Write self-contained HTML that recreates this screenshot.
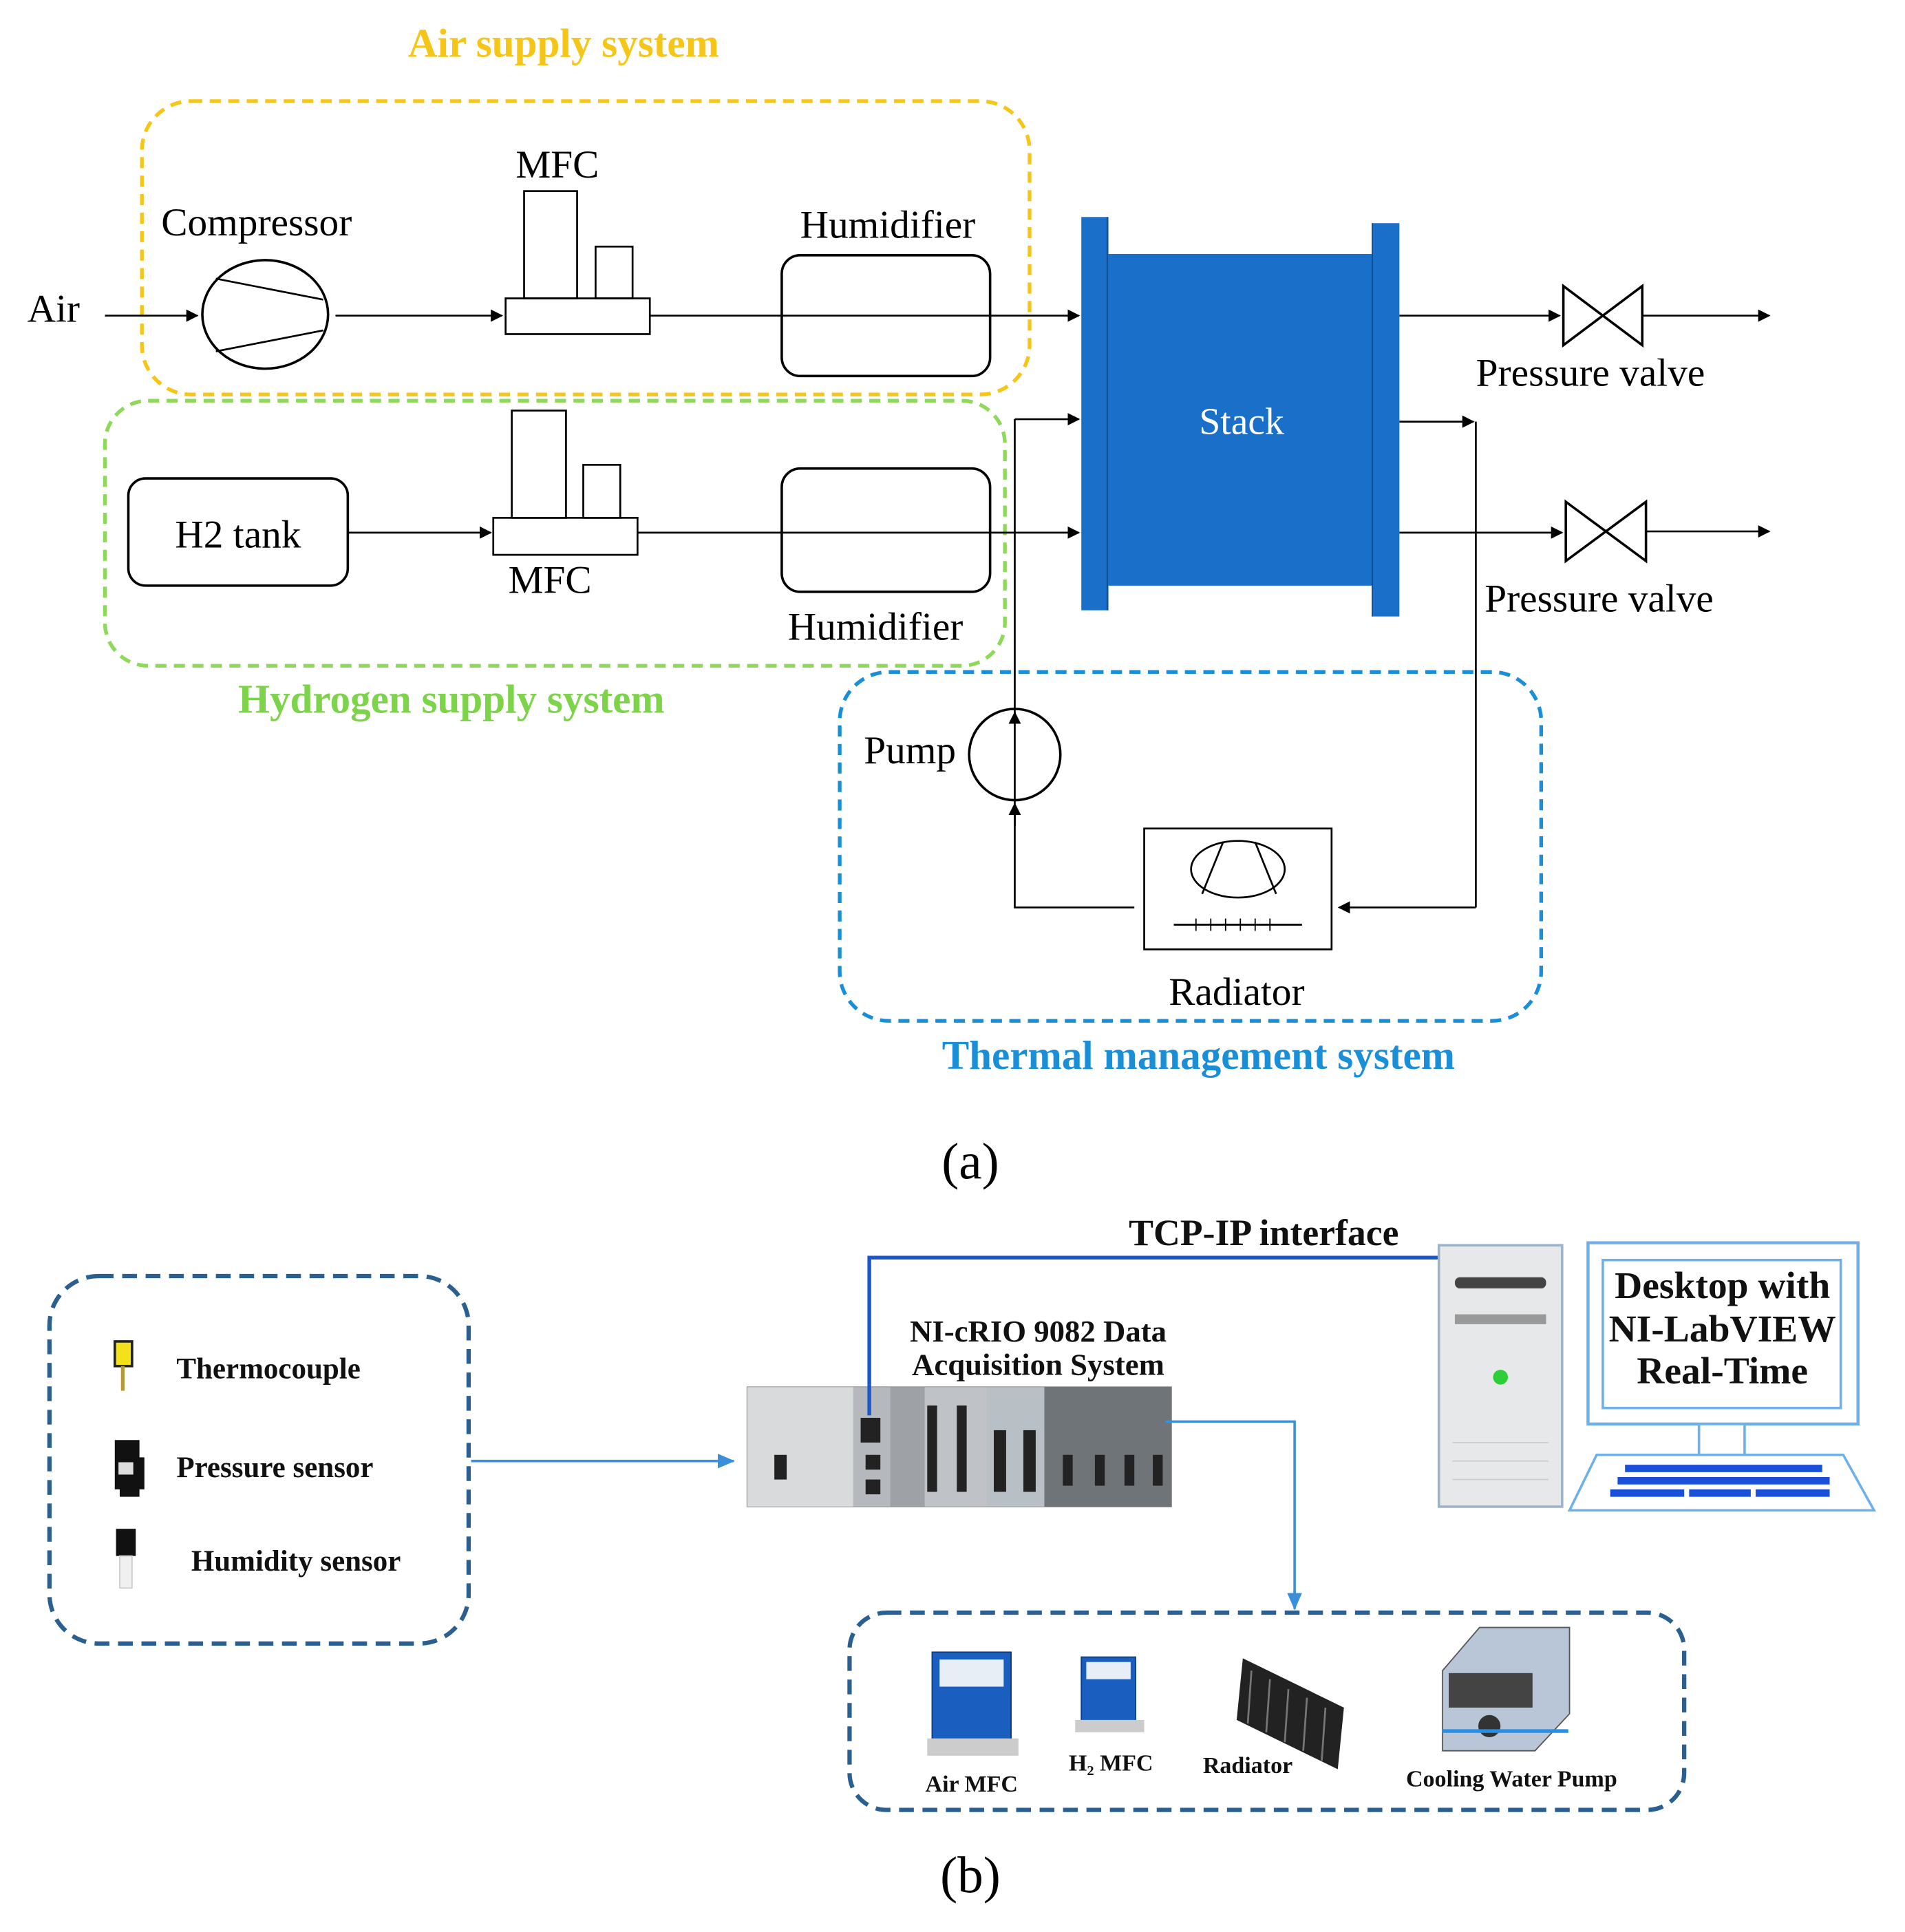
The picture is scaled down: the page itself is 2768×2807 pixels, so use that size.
<!DOCTYPE html>
<html><head><meta charset="utf-8"><style>
html,body{margin:0;padding:0;background:#fff;}
svg{display:block;}
text{font-family:"Liberation Serif",serif;}
</style></head><body>
<svg width="2768" height="2807" viewBox="0 0 1545 1567" xmlns="http://www.w3.org/2000/svg">
<defs>
<marker id="ar" markerWidth="10" markerHeight="10" refX="9" refY="5" orient="auto" markerUnits="userSpaceOnUse"><path d="M0,0 L10,5 L0,10 z" fill="#000"/></marker>
<marker id="ab" markerWidth="14" markerHeight="12" refX="13" refY="6" orient="auto" markerUnits="userSpaceOnUse"><path d="M0,0 L14,6 L0,12 z" fill="#3a8fd8"/></marker>
</defs>
<rect width="1545" height="1567" fill="#fff"/>
<rect x="115" y="82" width="720" height="238" rx="40" fill="none" stroke="#f5c518" stroke-width="3" stroke-dasharray="9,6"/>
<rect x="85" y="325" width="730" height="215" rx="35" fill="none" stroke="#8ed85a" stroke-width="3" stroke-dasharray="9,6"/>
<rect x="681" y="545" width="569" height="283" rx="40" fill="none" stroke="#1a8fd8" stroke-width="3" stroke-dasharray="9,6"/>
<text x="457" y="46" font-size="33" font-weight="bold" fill="#f5c518" text-anchor="middle">Air supply system</text>
<text x="366" y="578" font-size="33" font-weight="bold" fill="#7dd34a" text-anchor="middle">Hydrogen supply system</text>
<text x="972" y="867" font-size="33" font-weight="bold" fill="#1a8fd8" text-anchor="middle">Thermal management system</text>

<g stroke="#000" stroke-width="1.5" fill="none">
<line x1="85" y1="256" x2="160" y2="256" marker-end="url(#ar)"/>
<ellipse cx="215" cy="255" rx="51" ry="44" stroke-width="2"/>
<line x1="175" y1="226" x2="262" y2="243"/>
<line x1="175" y1="285" x2="262" y2="268"/>
<line x1="272" y1="256" x2="407" y2="256" marker-end="url(#ar)"/>
<rect x="410" y="242" width="117" height="29" fill="#fff"/>
<rect x="425" y="155" width="43" height="87"/>
<rect x="483" y="200" width="30" height="42"/>
<line x1="527" y1="256" x2="875" y2="256" marker-end="url(#ar)"/>
<rect x="634" y="207" width="169" height="98" rx="15" stroke-width="2"/>
<rect x="104" y="388" width="178" height="87" rx="14" stroke-width="2"/>
<line x1="282" y1="432" x2="398" y2="432" marker-end="url(#ar)"/>
<rect x="400" y="420" width="117" height="30" fill="#fff"/>
<rect x="415" y="333" width="44" height="87"/>
<rect x="473" y="377" width="30" height="43"/>
<line x1="517" y1="432" x2="875" y2="432" marker-end="url(#ar)"/>
<rect x="634" y="380" width="169" height="100" rx="15" stroke-width="2"/>
<line x1="1135" y1="256" x2="1265" y2="256" marker-end="url(#ar)"/>
<path d="M1268,232 L1332,280 L1332,232 L1268,280 Z" stroke-width="2"/>
<line x1="1332" y1="256" x2="1435" y2="256" marker-end="url(#ar)"/>
<line x1="1135" y1="432" x2="1267" y2="432" marker-end="url(#ar)"/>
<path d="M1270,407 L1335,455 L1335,407 L1270,455 Z" stroke-width="2"/>
<line x1="1335" y1="431" x2="1435" y2="431" marker-end="url(#ar)"/>
<line x1="1135" y1="342" x2="1195" y2="342" marker-end="url(#ar)"/>
<line x1="1197" y1="342" x2="1197" y2="736"/>
<line x1="1197" y1="736" x2="1086" y2="736" marker-end="url(#ar)"/>
<rect x="928" y="672" width="152" height="98"/>
<ellipse cx="1004" cy="705" rx="38" ry="23"/>
<line x1="992" y1="683" x2="975" y2="725"/>
<line x1="1018" y1="683" x2="1035" y2="725"/>
<line x1="952" y1="750" x2="1056" y2="750"/>
<g stroke-width="1"><line x1="970" y1="745" x2="970" y2="755"/><line x1="982" y1="745" x2="982" y2="755"/><line x1="994" y1="745" x2="994" y2="755"/><line x1="1006" y1="745" x2="1006" y2="755"/><line x1="1018" y1="745" x2="1018" y2="755"/><line x1="1030" y1="745" x2="1030" y2="755"/></g>
<polyline points="920,736 823,736 823,660"/>
<circle cx="823" cy="612" r="37" stroke-width="2"/>
<line x1="823" y1="670" x2="823" y2="652" marker-end="url(#ar)"/>
<line x1="823" y1="652" x2="823" y2="578" marker-end="url(#ar)"/>
<line x1="823" y1="580" x2="823" y2="340"/>
<line x1="823" y1="340" x2="875" y2="340" marker-end="url(#ar)"/>
</g>
<rect x="877" y="176" width="22" height="319" fill="#1a6fc9"/>
<rect x="898" y="206" width="215" height="269" fill="#1a6fc9"/>
<rect x="1113" y="181" width="22" height="319" fill="#1a6fc9"/>
<line x1="898" y1="176" x2="898" y2="495" stroke="#0d4a90" stroke-width="1"/>
<line x1="1113" y1="181" x2="1113" y2="500" stroke="#0d4a90" stroke-width="1"/>
<text x="1007" y="352" font-size="31" fill="#fff" text-anchor="middle">Stack</text>

<g font-size="32" fill="#000">
<text x="22" y="261">Air</text>
<text x="208" y="191" text-anchor="middle">Compressor</text>
<text x="452" y="144" text-anchor="middle">MFC</text>
<text x="720" y="193" text-anchor="middle">Humidifier</text>
<text x="193" y="444" text-anchor="middle">H2 tank</text>
<text x="446" y="481" text-anchor="middle">MFC</text>
<text x="710" y="519" text-anchor="middle">Humidifier</text>
<text x="1290" y="313" text-anchor="middle">Pressure valve</text>
<text x="1297" y="496" text-anchor="middle">Pressure valve</text>
<text x="738" y="619" text-anchor="middle">Pump</text>
<text x="1003" y="815" text-anchor="middle">Radiator</text>
<text x="787" y="956" font-size="42" text-anchor="middle">(a)</text>
<text x="787" y="1535" font-size="42" text-anchor="middle">(b)</text>
</g>

<rect x="40" y="1035" width="340" height="298" rx="40" fill="none" stroke="#2a5f8f" stroke-width="3.5" stroke-dasharray="12,7"/>
<rect x="93" y="1088" width="14" height="20" fill="#f3e21a" stroke="#222" stroke-width="2"/>
<rect x="98" y="1108" width="3" height="20" fill="#b59a3a"/>
<path d="M93,1168 h20 v14 h4 v26 h-4 v6 h-16 v-6 h-4 z" fill="#111"/>
<rect x="96" y="1186" width="12" height="10" fill="#ddd"/>
<rect x="94" y="1240" width="16" height="22" fill="#111"/>
<rect x="97" y="1262" width="10" height="26" fill="#f0f0f0" stroke="#ccc"/>
<g font-size="24" font-weight="bold" fill="#111">
<text x="143" y="1118">Thermocouple</text>
<text x="143" y="1198">Pressure sensor</text>
<text x="155" y="1274">Humidity sensor</text>
</g>
<line x1="382" y1="1185" x2="595" y2="1185" stroke="#3a8fd8" stroke-width="2" marker-end="url(#ab)"/>
<rect x="606" y="1125" width="344" height="97" fill="#c9ccd0" stroke="#888"/>
<rect x="606" y="1125" width="86" height="97" fill="#d8dadc"/>
<rect x="692" y="1125" width="30" height="97" fill="#b5b8bc"/>
<rect x="722" y="1125" width="28" height="97" fill="#9ea2a6"/>
<rect x="750" y="1125" width="50" height="97" fill="#bfc3c7"/>
<rect x="800" y="1125" width="47" height="97" fill="#b8c0c5"/>
<rect x="847" y="1125" width="103" height="97" fill="#6f7478"/>
<g fill="#222"><rect x="752" y="1140" width="8" height="70"/><rect x="776" y="1140" width="8" height="70"/><rect x="806" y="1160" width="10" height="50"/><rect x="830" y="1160" width="10" height="50"/><rect x="862" y="1180" width="8" height="25"/><rect x="888" y="1180" width="8" height="25"/><rect x="912" y="1180" width="8" height="25"/><rect x="935" y="1180" width="8" height="25"/><rect x="698" y="1150" width="16" height="20"/><rect x="702" y="1180" width="12" height="12"/><rect x="702" y="1200" width="12" height="12"/><rect x="628" y="1180" width="10" height="20"/></g>
<g font-size="25" font-weight="bold" fill="#111" text-anchor="middle">
<text x="842" y="1088">NI-cRIO 9082 Data</text>
<text x="842" y="1115">Acquisition System</text>
<text x="1025" y="1010" font-size="30">TCP-IP interface</text>
</g>
<polyline points="705,1148 705,1020 1168,1020" fill="none" stroke="#1a55c9" stroke-width="3"/>
<rect x="1167" y="1010" width="100" height="212" fill="#e6e8ea" stroke="#9fb3c8" stroke-width="2"/>
<rect x="1180" y="1036" width="74" height="9" rx="4" fill="#444"/>
<rect x="1180" y="1066" width="74" height="8" fill="#999"/>
<circle cx="1217" cy="1117" r="6" fill="#2ccf3a"/>
<g stroke="#ccc"><line x1="1178" y1="1170" x2="1256" y2="1170"/><line x1="1178" y1="1185" x2="1256" y2="1185"/><line x1="1178" y1="1200" x2="1256" y2="1200"/></g>
<rect x="1288" y="1008" width="219" height="147" fill="#fff" stroke="#6fb0e8" stroke-width="2.5"/>
<rect x="1300" y="1022" width="193" height="120" fill="#fff" stroke="#6fb0e8" stroke-width="2"/>
<g font-size="31" font-weight="bold" fill="#111" text-anchor="middle">
<text x="1397" y="1053">Desktop with</text>
<text x="1397" y="1088">NI-LabVIEW</text>
<text x="1397" y="1122">Real-Time</text>
</g>
<rect x="1378" y="1155" width="37" height="25" fill="#fff" stroke="#6fb0e8" stroke-width="2"/>
<path d="M1295,1180 L1495,1180 L1520,1225 L1273,1225 Z" fill="#fff" stroke="#6fb0e8" stroke-width="2"/>
<g fill="#1a4fd8"><rect x="1318" y="1188" width="160" height="6"/><rect x="1312" y="1198" width="172" height="6"/><rect x="1306" y="1208" width="60" height="6"/><rect x="1370" y="1208" width="50" height="6"/><rect x="1424" y="1208" width="60" height="6"/></g>
<polyline points="945,1153 1050,1153 1050,1300" fill="none" stroke="#3a8fd8" stroke-width="2"/>
<line x1="1050" y1="1290" x2="1050" y2="1305" stroke="#3a8fd8" stroke-width="2" marker-end="url(#ab)"/>
<rect x="689" y="1308" width="677" height="160" rx="30" fill="none" stroke="#2a5f8f" stroke-width="3.5" stroke-dasharray="12,7"/>
<rect x="756" y="1340" width="64" height="72" fill="#1a5fc0" stroke="#0d3a80"/>
<rect x="762" y="1346" width="52" height="22" fill="#e8eef5"/>
<rect x="752" y="1410" width="74" height="14" fill="#ccc"/>
<rect x="877" y="1344" width="44" height="52" fill="#1a5fc0" stroke="#0d3a80"/>
<rect x="881" y="1348" width="36" height="14" fill="#e8eef5"/>
<rect x="872" y="1395" width="56" height="10" fill="#ccc"/>
<path d="M1008,1345 L1090,1385 L1085,1435 L1003,1395 Z" fill="#222"/>
<g stroke="#777" stroke-width="1.5"><line x1="1015" y1="1355" x2="1012" y2="1398"/><line x1="1030" y1="1362" x2="1027" y2="1405"/><line x1="1045" y1="1370" x2="1042" y2="1413"/><line x1="1060" y1="1377" x2="1057" y2="1420"/><line x1="1075" y1="1385" x2="1072" y2="1428"/></g>
<path d="M1170,1355 L1200,1320 L1273,1320 L1273,1390 L1245,1420 L1170,1420 Z" fill="#b8c6d8" stroke="#555"/>
<rect x="1175" y="1357" width="68" height="28" fill="#444"/>
<circle cx="1208" cy="1400" r="9" fill="#333"/>
<line x1="1170" y1="1404" x2="1272" y2="1404" stroke="#2a8fe0" stroke-width="3"/>
<g font-size="19" font-weight="bold" fill="#111" text-anchor="middle">
<text x="788" y="1453">Air MFC</text>
<text x="901" y="1436">H₂ MFC</text>
<text x="1012" y="1438">Radiator</text>
<text x="1226" y="1449">Cooling Water Pump</text>
</g>
</svg>
</body></html>
